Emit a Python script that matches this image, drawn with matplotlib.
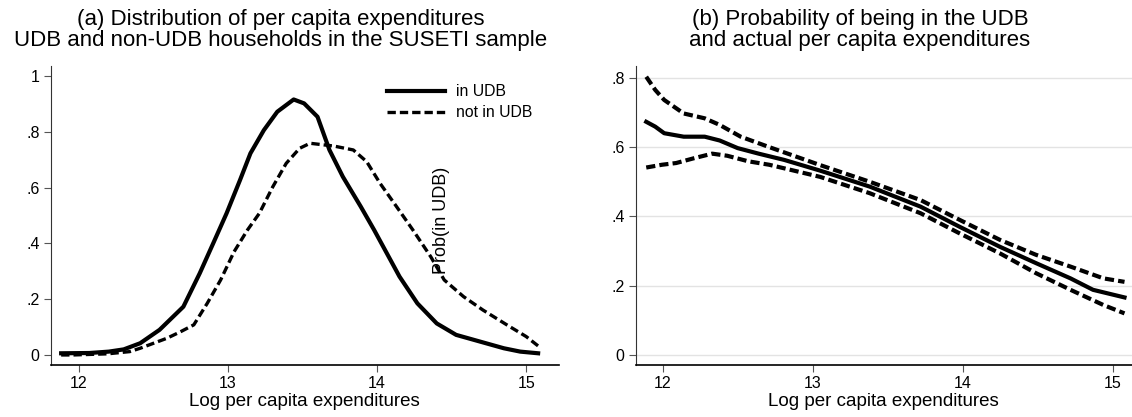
import matplotlib
matplotlib.use("Agg")
import matplotlib.pyplot as plt

plt.rcParams['font.family'] = ['Liberation Sans', 'DejaVu Sans']

# panel (a): kernel densities of log per capita expenditures
x_in = [11.88, 12.07, 12.20, 12.30, 12.41, 12.54, 12.70, 12.81, 12.90, 12.99, 13.08,
        13.15, 13.24, 13.33, 13.44, 13.51, 13.60, 13.68, 13.77, 13.89, 13.98, 14.09,
        14.15, 14.27, 14.40, 14.53, 14.69, 14.85, 14.96, 15.08]
d_in = [0.006, 0.007, 0.012, 0.02, 0.042, 0.09, 0.173, 0.293, 0.40, 0.508, 0.627,
        0.723, 0.806, 0.872, 0.916, 0.902, 0.854, 0.735, 0.639, 0.532, 0.448, 0.34,
        0.281, 0.185, 0.113, 0.072, 0.048, 0.024, 0.012, 0.006]

x_out = [11.88, 11.96, 12.19, 12.34, 12.41, 12.59, 12.68, 12.77, 12.86, 12.95, 13.04,
         13.13, 13.21, 13.30, 13.39, 13.48, 13.55, 13.71, 13.84, 13.93, 14.02, 14.13,
         14.24, 14.36, 14.45, 14.58, 14.71, 14.87, 15.0, 15.10]
d_out = [0.0, 0.0, 0.004, 0.012, 0.024, 0.06, 0.083, 0.108, 0.185, 0.269, 0.37,
         0.448, 0.508, 0.603, 0.687, 0.741, 0.759, 0.749, 0.735, 0.693, 0.615, 0.532,
         0.448, 0.352, 0.269, 0.209, 0.161, 0.108, 0.066, 0.024]

# panel (b): prob(in UDB) with confidence band
x_p = [11.89, 11.95, 12.01, 12.14, 12.28, 12.38, 12.50, 12.64, 12.81, 13.05, 13.38,
       13.72, 13.98, 14.25, 14.49, 14.72, 14.87, 15.08]
p_fit = [0.673, 0.659, 0.64, 0.63, 0.63, 0.619, 0.597, 0.581, 0.563, 0.532, 0.486,
         0.428, 0.37, 0.312, 0.265, 0.221, 0.188, 0.166]

x_hi = [11.89, 11.95, 12.01, 12.14, 12.28, 12.38, 12.52, 12.71, 13.05, 13.38, 13.72,
        13.98, 14.25, 14.49, 14.72, 14.94, 15.08]
p_hi = [0.803, 0.765, 0.736, 0.697, 0.683, 0.664, 0.63, 0.60, 0.548, 0.50, 0.447,
        0.39, 0.332, 0.289, 0.255, 0.221, 0.211]

x_lo = [11.89, 11.995, 12.09, 12.21, 12.33, 12.43, 12.57, 12.71, 13.05, 13.38, 13.72,
        13.98, 14.25, 14.49, 14.72, 14.94, 15.08]
p_lo = [0.541, 0.549, 0.554, 0.568, 0.581, 0.575, 0.559, 0.549, 0.514, 0.467, 0.409,
        0.351, 0.293, 0.236, 0.188, 0.144, 0.12]

xticks = [12, 13, 14, 15]
yticks_a = [0, 0.2, 0.4, 0.6, 0.8, 1.0]
ylabels_a = ['0', '.2', '.4', '.6', '.8', '1']
yticks_b = [0, 0.2, 0.4, 0.6, 0.8]
ylabels_b = ['0', '.2', '.4', '.6', '.8']

W, H = 1132, 417

fig = plt.figure(figsize=(11.32, 4.17), dpi=100)
ax1 = fig.add_axes([0.0448, 0.1247, 0.449, 0.717])
ax2 = fig.add_axes([0.5616, 0.1247, 0.4384, 0.717])


def style(ax):
    for s in ['top', 'right']:
        ax.spines[s].set_visible(False)
    ax.spines['left'].set_color('#333333')
    ax.spines['bottom'].set_color('black')
    ax.spines['bottom'].set_linewidth(1.2)
    ax.tick_params(axis='both', direction='out', length=5, color='#555555',
                   labelsize=11.5, pad=3)
    ax.set_xticks(xticks)
    ax.set_xticklabels([str(t) for t in xticks])
    ax.set_xlabel('Log per capita expenditures', fontsize=13.5, labelpad=1)


ax1.plot(x_in, d_in, color='black', lw=3.0, label='in UDB')
ax1.plot(x_out, d_out, color='black', lw=2.4, dashes=(2.5, 1.2), label='not in UDB')
ax1.set_xlim(11.81, 15.22)
ax1.set_ylim(-0.036, 1.036)
ax1.set_yticks(yticks_a)
ax1.set_yticklabels(ylabels_a)
style(ax1)
ax1.legend(loc='upper left', bbox_to_anchor=(387 / W, 1 - 84 / H),
           bbox_transform=fig.transFigure, frameon=False, borderpad=0,
           borderaxespad=0, fontsize=11.3, handlelength=3.7, handletextpad=0.7,
           labelspacing=0.4)

ax2.plot(x_p, p_fit, color='black', lw=3.0)
ax2.plot(x_hi, p_hi, color='black', lw=3.0, dashes=(2.2, 1.0))
ax2.plot(x_lo, p_lo, color='black', lw=3.0, dashes=(2.2, 1.0))
ax2.set_xlim(11.82, 15.13)
ax2.set_ylim(-0.029, 0.834)
ax2.set_yticks(yticks_b)
ax2.set_yticklabels(ylabels_b)
ax2.yaxis.grid(True, color='#e3e3e3', lw=1)
ax2.set_axisbelow(True)
style(ax2)

# stray y-axis title of panel (b), drawn inside panel (a)
fig.text(442 / W, 1 - 220 / H, 'Prob(in UDB)', rotation=90, fontsize=13,
         ha='center', va='center')

fig.text(281 / W, 1 - 30 / H,
         '(a) Distribution of per capita expenditures\nUDB and non-UDB households in the SUSETI sample',
         ha='center', va='center', fontsize=16, linespacing=1.0)
fig.text(860 / W, 1 - 30 / H,
         '(b) Probability of being in the UDB\nand actual per capita expenditures',
         ha='center', va='center', fontsize=16, linespacing=1.0)

fig.savefig('out.png', dpi=100)
